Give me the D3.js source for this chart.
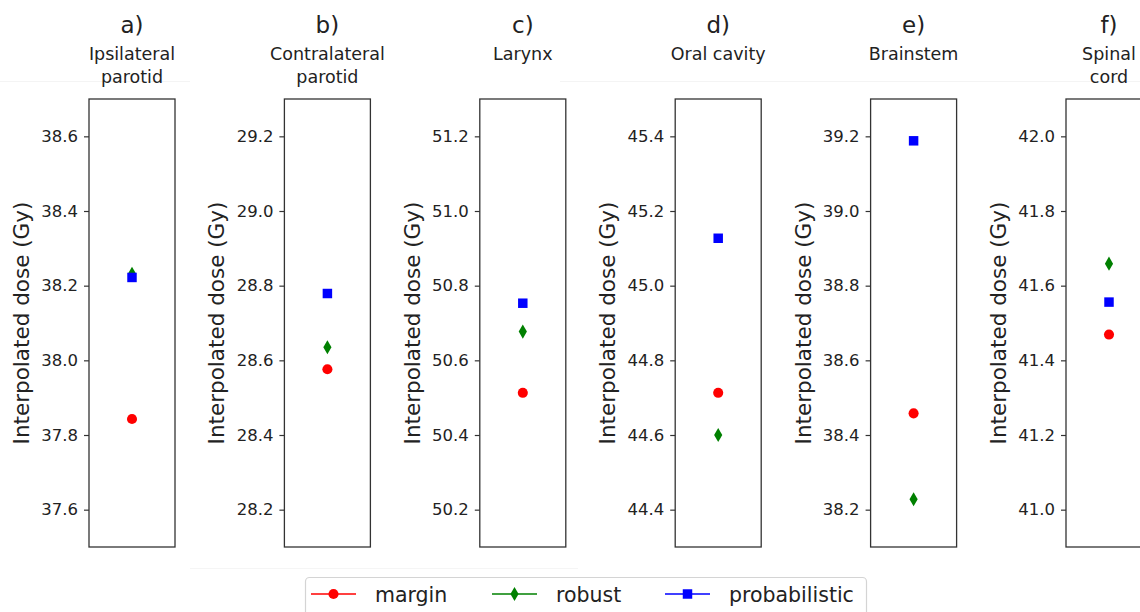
<!DOCTYPE html>
<html>
<head>
<meta charset="utf-8">
<script src="https://cdn.jsdelivr.net/npm/d3@7"></script>
<style>
  body { margin: 0; background: #fff; }
  svg { display: block; font-family: "DejaVu Sans", sans-serif; }
</style>
</head>
<body>
<script>

// panel letters and organ names (two lines where the original wraps)
var letters = ["a)", "b)", "c)", "d)", "e)", "f)"];
var organs = [["Ipsilateral", "parotid"], ["Contralateral", "parotid"], ["Larynx"],
              ["Oral cavity"], ["Brainstem"], ["Spinal", "cord"]];

// interpolated dose (Gy) per strategy
var margin = [37.843, 28.576, 50.513, 44.713, 38.458, 41.469];
var robust = [38.232, 28.635, 50.677, 44.600, 38.228, 41.659];
var probabilistic = [38.222, 28.779, 50.753, 45.127, 39.188, 41.556];

// y tick labels per panel
var yTicks = [
  [37.6, 37.8, 38.0, 38.2, 38.4, 38.6],
  [28.2, 28.4, 28.6, 28.8, 29.0, 29.2],
  [50.2, 50.4, 50.6, 50.8, 51.0, 51.2],
  [44.4, 44.6, 44.8, 45.0, 45.2, 45.4],
  [38.2, 38.4, 38.6, 38.8, 39.0, 39.2],
  [41.0, 41.2, 41.4, 41.6, 41.8, 42.0]
];

var seriesNames = ["margin", "robust", "probabilistic"];
var seriesData = [margin, robust, probabilistic];
var colors = ["#ff0000", "#008000", "#0000ff"];
var symbols = [d3.symbolCircle, d3.symbolDiamond, d3.symbolSquare];
var symSize = [80, 58, 90];

var width = 1140, height = 612;
var boxW = 86, boxTop = 99, boxBottom = 547;

var svg = d3.select("body")
  .append("svg")
  .attr("width", width)
  .attr("height", height);

// faint seams left over from the stitched figure
svg.append("line").attr("x1", 0).attr("x2", 190).attr("y1", 81.5).attr("y2", 81.5)
  .attr("stroke", "#f4f4f4");
svg.append("line").attr("x1", 560).attr("x2", 1140).attr("y1", 81.5).attr("y2", 81.5)
  .attr("stroke", "#f4f4f4");
svg.append("line").attr("x1", 190).attr("x2", 578).attr("y1", 568.5).attr("y2", 568.5)
  .attr("stroke", "#f5f5f5");

var xPanel = d3.scalePoint()
  .domain(letters)
  .range([89, 89 + 5 * 195.4]);

letters.forEach(function(letter, i) {
  var x0 = xPanel(letter);
  var cx = x0 + boxW / 2;
  var ticks = yTicks[i];

  var yScale = d3.scaleLinear()
    .domain([ticks[0] - 0.1, ticks[ticks.length - 1] + 0.1])
    .range([boxBottom, boxTop]);

  var g = svg.append("g");

  // title
  g.append("text")
    .attr("x", cx).attr("y", 33)
    .attr("text-anchor", "middle")
    .attr("fill", "#222")
    .style("font-size", "23px")
    .text(letter);

  organs[i].forEach(function(line, j) {
    g.append("text")
      .attr("x", cx).attr("y", 60 + j * 23)
      .attr("text-anchor", "middle")
      .attr("fill", "#222")
      .style("font-size", "17.5px")
      .text(line);
  });

  var yAxis = g.append("g")
    .attr("transform", "translate(" + x0 + ",0)")
    .call(d3.axisLeft(yScale).tickValues(ticks).tickFormat(d3.format(".1f"))
      .tickSize(5).tickPadding(6));
  yAxis.select(".domain").remove();
  yAxis.selectAll(".tick line").attr("stroke", "#333").attr("stroke-width", 1.2);
  yAxis.selectAll(".tick text")
    .attr("fill", "#222")
    .style("font-size", "16.5px")
    .style("font-family", "DejaVu Sans, sans-serif");

  g.append("rect")
    .attr("x", x0).attr("y", boxTop)
    .attr("width", boxW).attr("height", boxBottom - boxTop)
    .attr("fill", "none")
    .attr("stroke", "#333")
    .attr("stroke-width", 1.3);

  g.append("text")
    .attr("text-anchor", "middle")
    .attr("transform", "translate(" + (x0 - 60) + "," + ((boxTop + boxBottom) / 2) + ")rotate(-90)")
    .attr("fill", "#222")
    .style("font-size", "21.5px")
    .text("Interpolated dose (Gy)");

  seriesData.forEach(function(vals, k) {
    g.append("path")
      .attr("d", d3.symbol().type(symbols[k]).size(symSize[k]))
      .attr("transform", "translate(" + cx + "," + yScale(vals[i]) + ")")
      .attr("fill", colors[k]);
  });
});

// legend
var leg = svg.append("g");
leg.append("rect")
  .attr("x", 305.5).attr("y", 577.5)
  .attr("width", 561).attr("height", 60)
  .attr("rx", 4)
  .attr("fill", "#fff")
  .attr("stroke", "#d4d4d4")
  .attr("stroke-width", 1.2);

var legX = [311, 492, 665];
seriesNames.forEach(function(name, k) {
  var lx = legX[k];
  leg.append("line")
    .attr("x1", lx).attr("x2", lx + 45)
    .attr("y1", 594).attr("y2", 594)
    .attr("stroke", colors[k])
    .attr("stroke-width", 1.6);
  leg.append("path")
    .attr("d", d3.symbol().type(symbols[k]).size(symSize[k]))
    .attr("transform", "translate(" + (lx + 22.5) + ",594)")
    .attr("fill", colors[k]);
  leg.append("text")
    .attr("x", lx + 64).attr("y", 601.5)
    .attr("fill", "#222")
    .style("font-size", "20.5px")
    .text(name);
});

</script>
</body>
</html>
